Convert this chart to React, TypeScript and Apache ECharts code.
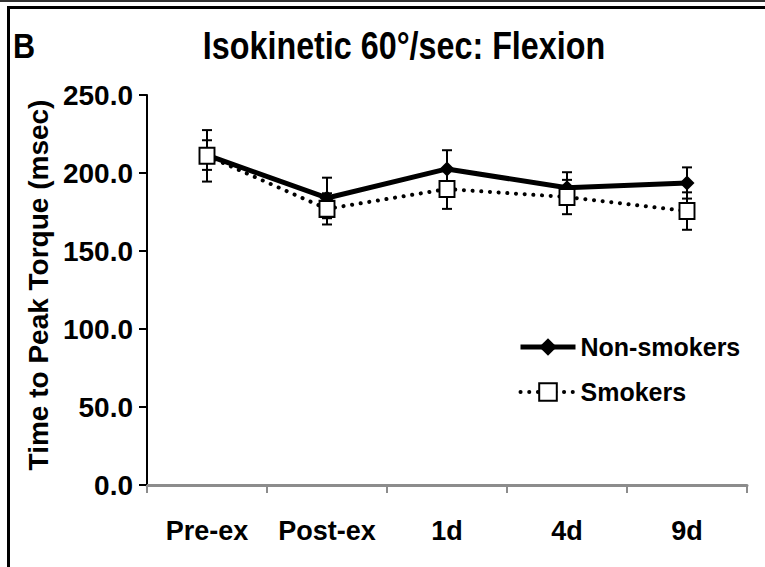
import React, { useEffect, useRef } from "react";
import * as echarts from "echarts";

const categories = ["Pre-ex", "Post-ex", "1d", "4d", "9d"];
const nonSmokers = [211.5, 184.0, 202.6, 190.5, 193.6];
const nonSmokersErr = [9.5, 13.0, 12.0, 10.0, 10.0];
const smokers = [211.0, 177.0, 189.7, 184.6, 175.6];
const smokersErr = [16.5, 10.0, 12.7, 11.0, 12.0];
const yMin = 0;
const yMax = 250;
const yInterval = 50;

const FONT = '"Liberation Sans Narrow", "Arial Narrow", "Liberation Sans", Arial, sans-serif';
const WIDE = '"Liberation Sans", Arial, sans-serif';

function errData(vals: number[], errs: number[]) {
  return vals.map((v, i) => [i, v - errs[i], v + errs[i]]);
}

function errRender(params: any, api: any) {
  const x = api.value(0);
  const lo = api.value(1);
  const hi = api.value(2);
  const top = api.coord([x, hi]);
  const bot = api.coord([x, lo]);
  const hw = 5;
  const st = { stroke: "#000", lineWidth: 2 };
  return {
    type: "group",
    children: [
      { type: "line", shape: { x1: top[0], y1: top[1], x2: bot[0], y2: bot[1] }, style: st },
      { type: "line", shape: { x1: top[0] - hw, y1: top[1], x2: top[0] + hw, y2: top[1] }, style: st },
      { type: "line", shape: { x1: bot[0] - hw, y1: bot[1], x2: bot[0] + hw, y2: bot[1] }, style: st },
    ],
  };
}

export default function App() {
  const ref = useRef<HTMLDivElement>(null);
  useEffect(() => {
    if (!ref.current) return;
    const chart = echarts.init(ref.current, undefined, { renderer: "svg" });
    chart.setOption({
      animation: false,
      backgroundColor: "#fff",
      grid: { left: 147, right: 18, top: 95, bottom: 82, containLabel: false },
      graphic: [
        { type: "line", shape: { x1: 0, y1: 1, x2: 765, y2: 1 }, style: { stroke: "#333", lineWidth: 2 } },
        { type: "line", shape: { x1: 7, y1: 7.5, x2: 765, y2: 7.5 }, style: { stroke: "#000", lineWidth: 3 } },
        { type: "line", shape: { x1: 8.5, y1: 6, x2: 8.5, y2: 567 }, style: { stroke: "#000", lineWidth: 3 } },
        {
          type: "text",
          x: 13,
          y: 46,
          scaleX: 0.85,
          style: { text: "B", font: `bold 36px ${WIDE}`, fill: "#000", verticalAlign: "middle", textVerticalAlign: "middle" },
        },
        {
          type: "text",
          x: 404,
          y: 46,
          scaleX: 0.85,
          originX: 0,
          style: {
            text: "Isokinetic 60°/sec: Flexion",
            font: `bold 38px ${WIDE}`,
            fill: "#000",
            align: "center",
            textAlign: "center",
            verticalAlign: "middle",
            textVerticalAlign: "middle",
          },
        },
      ],
      legend: {
        orient: "vertical",
        left: 518,
        top: 333,
        itemWidth: 55,
        itemHeight: 22,
        itemGap: 17,
        padding: 0,
        lineStyle: { width: "inherit" },
        data: ["Non-smokers", "Smokers"],
        textStyle: { fontFamily: FONT, fontWeight: "bold", fontSize: 25, color: "#000", lineHeight: 28 },
      },
      xAxis: {
        type: "category",
        data: categories,
        boundaryGap: true,
        axisLine: { lineStyle: { color: "#8c8c8c", width: 3 } },
        axisTick: { show: true, length: 8, lineStyle: { color: "#8c8c8c", width: 2 } },
        axisLabel: { interval: 0, margin: 32, fontFamily: FONT, fontWeight: "bold", fontSize: 27, color: "#000" },
        splitLine: { show: false },
      },
      yAxis: {
        type: "value",
        min: yMin,
        max: yMax,
        interval: yInterval,
        name: "Time to Peak Torque (msec)",
        nameLocation: "middle",
        nameGap: 95,
        nameRotate: 90,
        nameTextStyle: { fontFamily: WIDE, fontWeight: "bold", fontSize: 28, color: "#000", padding: [0, 0, 0, 10] },
        axisLine: { show: true, lineStyle: { color: "#000", width: 2 } },
        axisTick: { show: true, length: 8, lineStyle: { color: "#000", width: 2 } },
        axisLabel: {
          margin: 14,
          fontFamily: FONT,
          fontWeight: "bold",
          fontSize: 28,
          color: "#000",
          formatter: (v: number) => v.toFixed(1),
        },
        splitLine: { show: false },
      },
      series: [
        {
          name: "Non-smokers-err",
          type: "custom",
          renderItem: errRender,
          data: errData(nonSmokers, nonSmokersErr),
          z: 3,
          silent: true,
        },
        {
          name: "Non-smokers",
          type: "line",
          data: nonSmokers,
          symbol: "diamond",
          symbolSize: 15,
          itemStyle: { color: "#000" },
          lineStyle: { color: "#000", width: 5 },
          z: 4,
        },
        {
          name: "Smokers-err",
          type: "custom",
          renderItem: errRender,
          data: errData(smokers, smokersErr),
          z: 5,
          silent: true,
        },
        {
          name: "Smokers",
          type: "line",
          data: smokers,
          symbol: "rect",
          symbolSize: [15, 16],
          itemStyle: { color: "#fff", borderColor: "#000", borderWidth: 2 },
          lineStyle: { color: "#000", width: 4, type: [0.1, 8.6], cap: "round" },
          z: 6,
        },
      ],
    });
    return () => chart.dispose();
  }, []);
  return <div ref={ref} style={{ position: "fixed", left: 0, top: 0, width: 765, height: 567 }} />;
}
